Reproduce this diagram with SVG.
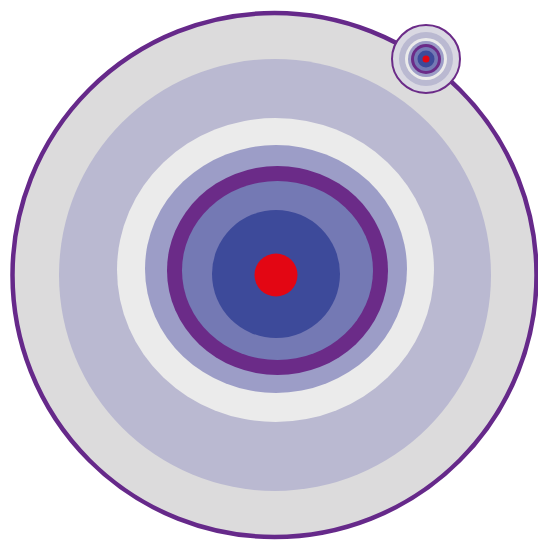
<svg xmlns="http://www.w3.org/2000/svg" width="538" height="541" viewBox="0 0 538 541">
  <style>
    .gray{fill:#dcdbdc}
    .lav{fill:#bab9d1}
    .wht{fill:#ebebeb}
    .bg{fill:#9c9dc7}
    .pur{fill:#6b2b88}
    .med{fill:#7479b4}
    .dk{fill:#3d4a9a}
    .red{fill:#e30613}
  </style>
  <rect width="538" height="541" fill="#ffffff"/>
  <g id="target-main">
    <circle class="gray" cx="274.5" cy="275" r="262" stroke="#66298a" stroke-width="4.5"/>
    <circle class="lav" cx="275" cy="275" r="216"/>
    <ellipse class="wht" cx="275.5" cy="270" rx="158.5" ry="152"/>
    <ellipse class="bg" cx="276" cy="269" rx="131" ry="124"/>
    <ellipse class="pur" cx="277.5" cy="270.5" rx="110.5" ry="104.5"/>
    <ellipse class="med" cx="277.5" cy="270.5" rx="95.5" ry="89.5"/>
    <circle class="dk" cx="276" cy="274" r="64"/>
    <circle class="red" cx="276" cy="275" r="21.5"/>
  </g>
  <g id="target-mini">
    <circle cx="426" cy="59" r="34" fill="#d9d8e2" stroke="#6b2b88" stroke-width="2"/>
    <circle class="lav" cx="426" cy="59" r="27" fill="#b5b4cf"/>
    <circle class="wht" cx="426" cy="59" r="21"/>
    <circle class="bg" cx="426" cy="59" r="18"/>
    <circle class="pur" cx="426" cy="59" r="15"/>
    <circle class="med" cx="426" cy="59" r="12"/>
    <circle class="dk" cx="426" cy="59" r="8.5"/>
    <circle class="red" cx="426" cy="59" r="3.5"/>
  </g>
</svg>
